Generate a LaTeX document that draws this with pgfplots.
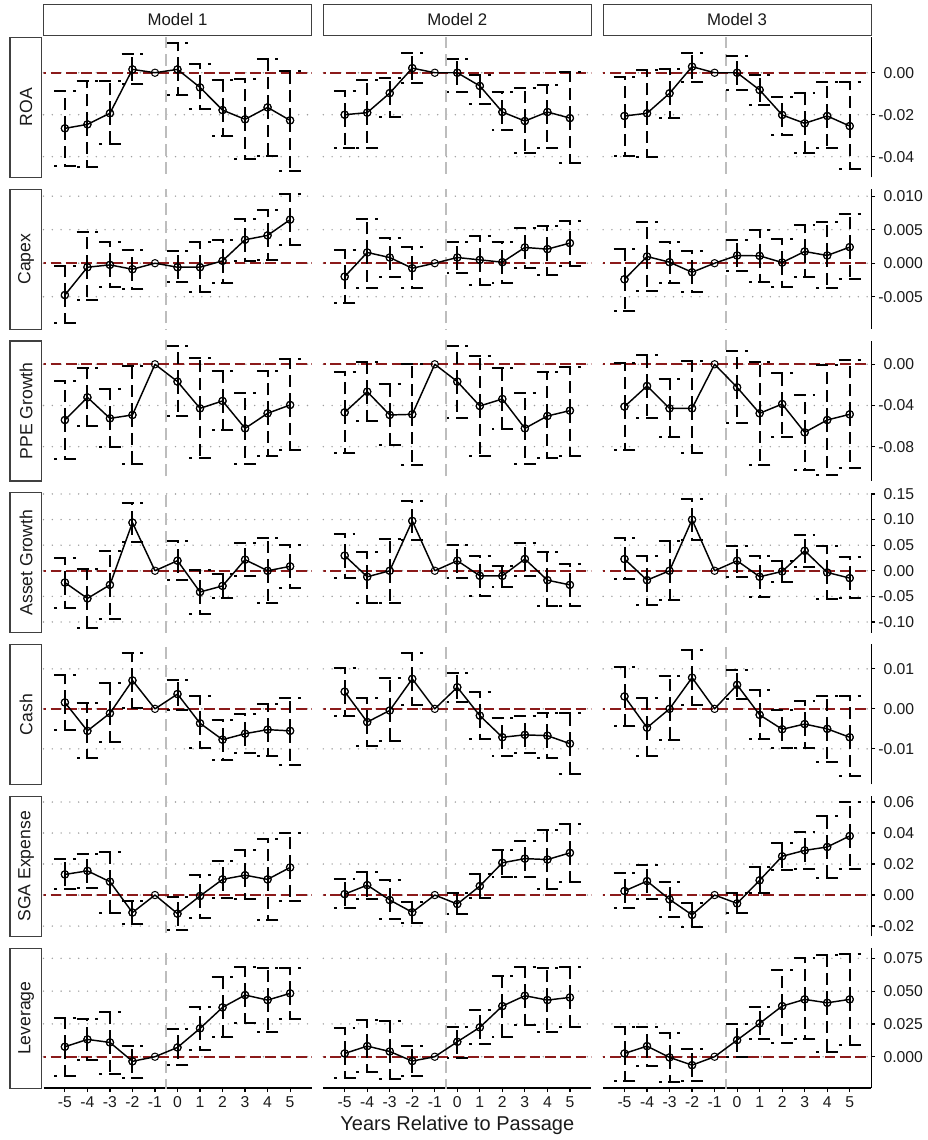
\documentclass[border=0pt]{standalone}
\usepackage{pgfplots}
\pgfplotsset{compat=1.18}
\usepackage{pgfplotstable}
\usepackage{fontspec}
\setmainfont{Liberation Sans}

\definecolor{refred}{HTML}{8B1A1A}
\definecolor{vgray}{HTML}{BDBDBD}
\definecolor{dotgray}{HTML}{9E9E9E}
\definecolor{stripline}{HTML}{404040}
\definecolor{txt}{HTML}{1A1A1A}

% estimate (e), lower (l) and upper (h) bound for Models 1-3
\pgfplotstableread{
x  e1 l1 h1  e2 l2 h2  e3 l3 h3
-5 -0.0265 -0.0443 -0.0086  -0.0200 -0.0358 -0.0087  -0.0206 -0.0395 -0.0019
-4 -0.0246 -0.0447 -0.0040  -0.0190 -0.0358 -0.0035  -0.0193 -0.0400  0.0013
-3 -0.0193 -0.0339 -0.0040  -0.0097 -0.0210 -0.0025  -0.0098 -0.0214  0.0016
-2  0.0016 -0.0055  0.0088   0.0022 -0.0049  0.0094   0.0029 -0.0043  0.0095
-1  0 0 0  0 0 0  0 0 0
0   0.0016 -0.0106  0.0143   0.0000 -0.0092  0.0065   0.0000 -0.0082  0.0080
1  -0.0070 -0.0173  0.0041  -0.0063 -0.0149 -0.0011  -0.0082 -0.0154 -0.0011
2  -0.0178 -0.0300 -0.0035  -0.0187 -0.0273 -0.0092  -0.0201 -0.0297 -0.0114
3  -0.0222 -0.0412 -0.0031  -0.0230 -0.0382 -0.0073  -0.0241 -0.0381 -0.0098
4  -0.0165 -0.0395  0.0064  -0.0187 -0.0358 -0.0059  -0.0206 -0.0360 -0.0046
5  -0.0227 -0.0467  0.0010  -0.0216 -0.0430  0.0003  -0.0254 -0.0460 -0.0043
}\roa

\pgfplotstableread{
x  e1 l1 h1  e2 l2 h2  e3 l3 h3
-5 -0.00475 -0.0089 -0.0004   -0.0020 -0.0059 0.0019     -0.0024 -0.00715 0.00215
-4 -0.0006 -0.0055 0.0046     0.0016 -0.00365 0.0066     0.0010 -0.0041 0.00615
-3 -0.00025 -0.0035 0.0031    0.00085 -0.0021 0.00375    0.00015 -0.0029 0.0031
-2 -0.0009 -0.00385 0.0020    -0.00075 -0.00365 0.0024   -0.00135 -0.00435 0.00175
-1 0 0 0  0 0 0  0 0 0
0  -0.0006 -0.00275 0.00175   0.00085 -0.0014 0.00315    0.00115 -0.0011 0.0035
1  -0.0006 -0.00425 0.0031    0.0005 -0.00325 0.0041     0.0011 -0.00275 0.0050
2  0.00035 -0.0030 0.0035     0.00015 -0.0029 0.0031     0.0001 -0.0035 0.00365
3  0.0035 0.00035 0.00665     0.00235 -0.00075 0.00525   0.00175 -0.0021 0.00565
4  0.00415 0.0005 0.0080      0.0021 -0.00175 0.0055     0.00115 -0.00365 0.0061
5  0.0065 0.00275 0.01035     0.0030 -0.0004 0.00625     0.0024 -0.0024 0.0074
}\capex

\pgfplotstableread{
x  e1 l1 h1  e2 l2 h2  e3 l3 h3
-5 -0.0541 -0.0923 -0.0159  -0.0467 -0.0865 -0.0078  -0.0411 -0.0833 0.0010
-4 -0.0321 -0.0599 -0.0032  -0.0266 -0.0551 0.0026   -0.0211 -0.0518 0.0091
-3 -0.0525 -0.0807 -0.0243  -0.0492 -0.0784 -0.0194  -0.0428 -0.0710 -0.0146
-2 -0.0492 -0.0972 -0.0016  -0.0486 -0.0978 0.0003   -0.0428 -0.0865 0.0032
-1 0 0 0  0 0 0  0 0 0
0  -0.0168 -0.0502 0.0178   -0.0168 -0.0518 0.0178   -0.0224 -0.0573 0.0130
1  -0.0428 -0.0914 0.0058   -0.0405 -0.0888 0.0084   -0.0476 -0.0978 0.0019
2  -0.0356 -0.0638 -0.0065  -0.0337 -0.0629 -0.0039  -0.0386 -0.0703 -0.0081
3  -0.0622 -0.0972 -0.0275  -0.0622 -0.0972 -0.0275  -0.0661 -0.1027 -0.0298
4  -0.0476 -0.0891 -0.0065  -0.0502 -0.0914 -0.0071  -0.0541 -0.1076 -0.0006
5  -0.0395 -0.0833 0.0049   -0.0450 -0.0888 -0.0023  -0.0486 -0.1011 0.0042
}\ppe

\pgfplotstableread{
x  e1 l1 h1  e2 l2 h2  e3 l3 h3
-5 -0.0230 -0.0724 0.0243   0.0296 -0.0132 0.0711   0.0228 -0.0163 0.0632
-4 -0.0540 -0.1118 0.0033   -0.0118 -0.0625 0.0375  -0.0183 -0.0665 0.0280
-3 -0.0276 -0.0934 0.0382   0.0000 -0.0638 0.0625   0.0000 -0.0574 0.0587
-2 0.0941 0.0559 0.1316     0.0974 0.0592 0.1369    0.0998 0.0600 0.1402
-1 0 0 0  0 0 0  0 0 0
0  0.0197 -0.0184 0.0579    0.0197 -0.0132 0.0494   0.0196 -0.0117 0.0489
1  -0.0415 -0.0842 0.0013   -0.0099 -0.0494 0.0296  -0.0117 -0.0522 0.0280
2  -0.0296 -0.0540 -0.0066  -0.0099 -0.0316 0.0099  -0.0013 -0.0228 0.0196
3  0.0217 -0.0112 0.0540    0.0230 -0.0112 0.0546   0.0391 0.0065 0.0698
4  0.0000 -0.0625 0.0638    -0.0184 -0.0691 0.0362  -0.0033 -0.0554 0.0489
5  0.0086 -0.0329 0.0494    -0.0276 -0.0691 0.0132  -0.0143 -0.0541 0.0261
}\asset

\pgfplotstableread{
x  e1 l1 h1  e2 l2 h2  e3 l3 h3
-5 0.0016 -0.0052 0.0085    0.0043 -0.0017 0.0103    0.0031 -0.0043 0.0104
-4 -0.0055 -0.0122 0.0014   -0.0033 -0.0094 0.0027   -0.0047 -0.0117 0.0027
-3 -0.0011 -0.0084 0.0064   -0.0004 -0.0080 0.0077   0.0000 -0.0078 0.0081
-2 0.0071 0.0002 0.0139     0.0075 0.0010 0.0139     0.0078 0.0010 0.0146
-1 0 0 0  0 0 0  0 0 0
0  0.0037 -0.0002 0.0073    0.0054 0.0018 0.0089     0.0060 0.0024 0.0096
1  -0.0036 -0.0098 0.0031   -0.0017 -0.0076 0.0043   -0.0015 -0.0076 0.0046
2  -0.0077 -0.0129 -0.0027  -0.0071 -0.0117 -0.0023  -0.0051 -0.0098 -0.0002
3  -0.0062 -0.0111 -0.0013  -0.0065 -0.0111 -0.0017  -0.0038 -0.0097 0.0020
4  -0.0052 -0.0117 0.0012   -0.0067 -0.0122 -0.0011  -0.0050 -0.0133 0.0032
5  -0.0055 -0.0140 0.0028   -0.0087 -0.0163 -0.0011  -0.0071 -0.0169 0.0031
}\cash

\pgfplotstableread{
x  e1 l1 h1  e2 l2 h2  e3 l3 h3
-5 0.0133 0.0036 0.0231     0.0006 -0.0086 0.0101    0.0026 -0.0086 0.0139
-4 0.0156 0.0047 0.0263     0.0064 -0.0026 0.0150    0.0090 -0.0026 0.0197
-3 0.0086 -0.0118 0.0278    -0.0032 -0.0156 0.0096   -0.0028 -0.0139 0.0081
-2 -0.0113 -0.0188 -0.0038  -0.0111 -0.0178 -0.0043  -0.0128 -0.0203 -0.0050
-1 0 0 0  0 0 0  0 0 0
0  -0.0120 -0.0225 -0.0015  -0.0058 -0.0124 0.0011   -0.0054 -0.0118 0.0012
1  -0.0006 -0.0146 0.0128   0.0058 -0.0021 0.0135    0.0095 0.0010 0.0178
2  0.0101 -0.0017 0.0218    0.0208 0.0118 0.0289    0.0250 0.0160 0.0338
3  0.0128 -0.0026 0.0289    0.0235 0.0118 0.0347    0.0288 0.0165 0.0405
4  0.0101 -0.0160 0.0364    0.0229 0.0036 0.0417    0.0310 0.0111 0.0509
5  0.0178 -0.0039 0.0400    0.0272 0.0081 0.0456    0.0381 0.0165 0.0600
}\sga

\pgfplotstableread{
x  e1 l1 h1  e2 l2 h2  e3 l3 h3
-5 0.0076 -0.0145 0.0292    0.0025 -0.0165 0.0216    0.0025 -0.0183 0.0224
-4 0.0132 -0.0025 0.0284    0.0081 -0.0114 0.0279    0.0081 -0.0071 0.0224
-3 0.0109 -0.0135 0.0343    0.0040 -0.0170 0.0270    -0.0005 -0.0191 0.0178
-2 -0.0035 -0.0160 0.0085   -0.0033 -0.0145 0.0081   -0.0064 -0.0183 0.0056
-1 0 0 0  0 0 0  0 0 0
0  0.0071 -0.0064 0.0208    0.0114 -0.0013 0.0229    0.0127 0.0000 0.0246
1  0.0216 0.0051 0.0381     0.0224 0.0097 0.0356     0.0254 0.0132 0.0381
2  0.0376 0.0152 0.0610     0.0386 0.0152 0.0617     0.0386 0.0107 0.0660
3  0.0470 0.0259 0.0686     0.0465 0.0241 0.0686     0.0437 0.0132 0.0749
4  0.0432 0.0191 0.0673     0.0432 0.0191 0.0673     0.0411 0.0038 0.0775
5  0.0483 0.0284 0.0680     0.0452 0.0229 0.0686     0.0437 0.0089 0.0782
}\lev

\pgfplotsset{
  panel/.style={
    scale only axis, width=201bp, height=105bp, anchor=north west,
    xmin=-5.95, xmax=5.95,
    axis x line=bottom, axis y line=right,
    axis line style={-, line width=0.9bp, black},
    xtick={-5,...,5}, xticklabels={},
    scaled y ticks=false,
    major tick length=3bp, tick align=outside,
    ymajorgrids,
    major grid style={dotgray, line width=1.2bp, line cap=round, dash pattern=on 0bp off 6.6bp},
    tick label style={font=\fontsize{11.8bp}{13bp}\selectfont, text=txt},
    clip=true,
  },
  notbottom/.style={x axis line style={draw=none}, xtick style={draw=none}},
  bottomrow/.style={xtick style={black, line width=0.9bp},
    xticklabels={-5,-4,-3,-2,-1,0,1,2,3,4,5},
    xticklabel style={anchor=north, inner sep=0pt, yshift=-3bp}},
  notright/.style={y axis line style={draw=none}, ytick style={draw=none}, yticklabels={}},
  rightcol/.style={ytick style={black, line width=0.9bp},
    yticklabel style={anchor=west, inner sep=0pt, xshift=2.2bp}},
  rowA/.style={ymin=-0.0498, ymax=0.0169, ytick={-0.04,-0.02,0},
    yticklabels={-0.04,-0.02,\phantom{-}0.00}},
  rowB/.style={ymin=-0.00982, ymax=0.01107, ytick={-0.005,0,0.005,0.01},
    yticklabels={-0.005,\phantom{-}0.000,\phantom{-}0.005,\phantom{-}0.010}},
  rowC/.style={ymin=-0.1132, ymax=0.0227, ytick={-0.08,-0.04,0},
    yticklabels={-0.08,-0.04,\phantom{-}0.00}},
  rowD/.style={ymin=-0.121, ymax=0.1525, ytick={-0.1,-0.05,0,0.05,0.1,0.15},
    yticklabels={-0.10,-0.05,\phantom{-}0.00,\phantom{-}0.05,\phantom{-}0.10,\phantom{-}0.15}},
  rowE/.style={ymin=-0.0189, ymax=0.0161, ytick={-0.01,0,0.01},
    yticklabels={-0.01,\phantom{-}0.00,\phantom{-}0.01}},
  rowF/.style={ymin=-0.0266, ymax=0.0637, ytick={-0.02,0,0.02,0.04,0.06},
    yticklabels={-0.02,\phantom{-}0.00,\phantom{-}0.02,\phantom{-}0.04,\phantom{-}0.06}},
  rowG/.style={ymin=-0.0239, ymax=0.0828, ytick={0,0.025,0.05,0.075},
    yticklabels={\phantom{-}0.000,\phantom{-}0.025,\phantom{-}0.050,\phantom{-}0.075}},
  vref/.style={vgray, line width=1.5bp, dash pattern=on 9bp off 4.5bp, forget plot},
  href/.style={refred, line width=1.7bp, dash pattern=on 8bp off 3.5bp, forget plot},
  ebars/.style={black, only marks, mark=o, mark size=2.75bp,
    mark options={solid, line width=0.75bp},
    error bars/y dir=both, error bars/y explicit,
    error bars/error bar style={line width=1.5bp, dash pattern=on 9bp off 4.5bp},
    error bars/error mark options={rotate=90, mark size=8.1bp, line width=1.5bp,
      dash pattern=on 9bp off 5bp}},
  est/.style={black, line width=1.1bp, line join=round, mark=o, mark size=2.75bp,
    mark options={solid, line width=0.75bp}},
}

% one facet: #1,#2 position, #3 table, #4 model number, #5 styles
\newcommand{\panel}[5]{%
  \begin{axis}[panel, at={(#1,#2)}, #5]
    \addplot[vref] coordinates {(-0.5,-1) (-0.5,1)};
    \addplot[href] coordinates {(-7,0) (7,0)};
    \addplot[ebars, skip coords between index={4}{5}] table[x=x, y=e#4,
      y error plus expr=\thisrow{h#4}-\thisrow{e#4},
      y error minus expr=\thisrow{e#4}-\thisrow{l#4}] {#3};
    \addplot[est] table[x=x, y=e#4] {#3};
  \end{axis}}

\newcommand{\facetrow}[3]{% #1 y, #2 table, #3 row style
  \panel{32.625bp}{#1}{#2}{1}{#3, notright}
  \panel{242.475bp}{#1}{#2}{2}{#3, notright}
  \panel{452.325bp}{#1}{#2}{3}{#3, rightcol}}

\begin{document}
\begin{tikzpicture}
  \path (0,0) rectangle (696bp,-855bp);
  \tikzset{stripbox/.style={draw=stripline, fill=white, line width=0.9bp},
           striptext/.style={text=txt, font=\fontsize{12.6bp}{14bp}\selectfont}}
  % column strips
  \foreach \cx/\mx/\lab in {32.625bp/133.125bp/Model 1, 242.475bp/342.975bp/Model 2, 452.325bp/552.825bp/Model 3}{
    \draw[stripbox] (\cx,-3.2bp) rectangle ++(201bp,-23.4bp);
    \node[striptext] at (\mx,-14.9bp) {\lab};
  }
  % row strips
  \foreach \ry/\my/\lab in {-27.975bp/-80.475bp/ROA, -141.825bp/-194.325bp/Capex,
      -255.675bp/-308.175bp/PPE Growth, -369.525bp/-422.025bp/Asset Growth,
      -483.375bp/-535.875bp/Cash, -597.225bp/-649.725bp/SGA Expense,
      -711.075bp/-763.575bp/Leverage}{
    \draw[stripbox] (7.5bp,\ry) rectangle ++(23.8bp,-105bp);
    \node[striptext, font=\fontsize{13.2bp}{15bp}\selectfont, rotate=90] at (19.6bp,\my) {\lab};
  }
  \facetrow{-27.975bp}{\roa}{rowA, notbottom}
  \facetrow{-141.825bp}{\capex}{rowB, notbottom}
  \facetrow{-255.675bp}{\ppe}{rowC, notbottom}
  \facetrow{-369.525bp}{\asset}{rowD, notbottom}
  \facetrow{-483.375bp}{\cash}{rowE, notbottom}
  \facetrow{-597.225bp}{\sga}{rowF, notbottom}
  \facetrow{-711.075bp}{\lev}{rowG, bottomrow}
  \node[text=txt, font=\fontsize{15bp}{17bp}\selectfont] at (343bp,-843.75bp) {Years Relative to Passage};
\end{tikzpicture}
\end{document}
